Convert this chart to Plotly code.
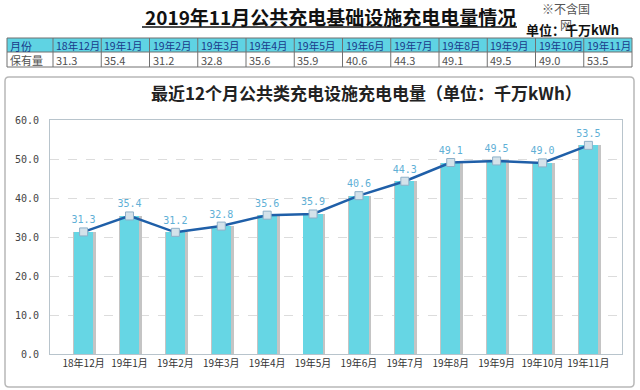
import plotly.graph_objects as go

months = ["18年12月", "19年1月", "19年2月", "19年3月", "19年4月", "19年5月",
          "19年6月", "19年7月", "19年8月", "19年9月", "19年10月", "19年11月"]
values = [31.3, 35.4, 31.2, 32.8, 35.6, 35.9, 40.6, 44.3, 49.1, 49.5, 49.0, 53.5]
y_ticks = [0, 10, 20, 30, 40, 50, 60]

W, H = 640, 390
def px(x): return x / W
def py(y): return 1 - y / H

CJK = "Noto Sans CJK SC"

fig = go.Figure()

# bar shadow
fig.add_trace(go.Bar(x=months, y=values, width=0.5, offset=-0.23,
                     marker=dict(color="#c4c4c4", line=dict(width=0)),
                     hoverinfo="skip", showlegend=False))
# bars
fig.add_trace(go.Bar(x=months, y=values, width=0.42, offset=-0.21,
                     marker=dict(color="#66d6e4", line=dict(width=0)),
                     showlegend=False))
# line
fig.add_trace(go.Scatter(x=months, y=values, mode="lines+markers+text",
                         text=[f"{v:.1f}" for v in values],
                         textposition="top center",
                         textfont=dict(family="DejaVu Sans Mono", size=10, color="#5fb0d6"),
                         line=dict(color="#1f5fa8", width=2.5),
                         marker=dict(symbol="square", size=8, color="#d4e2ea",
                                     line=dict(color="#8fb0c8", width=1)),
                         showlegend=False))

bx0, bx1, by0, by1, r = 5, 634, 77, 387, 4
shapes = [
    dict(type="path", xref="paper", yref="paper", layer="below",
         path=f"M {px(bx0+r)},{py(by0)} L {px(bx1-r)},{py(by0)} Q {px(bx1)},{py(by0)} {px(bx1)},{py(by0+r)} "
              f"L {px(bx1)},{py(by1-r)} Q {px(bx1)},{py(by1)} {px(bx1-r)},{py(by1)} "
              f"L {px(bx0+r)},{py(by1)} Q {px(bx0)},{py(by1)} {px(bx0)},{py(by1-r)} "
              f"L {px(bx0)},{py(by0+r)} Q {px(bx0)},{py(by0)} {px(bx0+r)},{py(by0)} Z",
         line=dict(color="#b8b8b8", width=1.5)),
]
annotations = [
    dict(text="<b>2019年11月公共充电基础设施充电电量情况</b>",
         xref="paper", yref="paper", x=px(330), y=py(17), xanchor="center", yanchor="middle",
         showarrow=False, font=dict(family=CJK, size=19, color="#111111")),
    dict(text="※不含国<br>网", xref="paper", yref="paper", x=px(566), y=py(17),
         xanchor="center", yanchor="middle",
         showarrow=False, font=dict(family=CJK, size=12, color="#555555")),
    dict(text="<b>单位：千万kWh</b>", xref="paper", yref="paper", x=px(572), y=py(29.5),
         xanchor="center", yanchor="middle",
         showarrow=False, font=dict(family=CJK, size=13, color="#111111")),
    dict(text="<b>最近12个月公共类充电设施充电电量（单位：千万kWh）</b>",
         xref="paper", yref="paper", x=px(366), y=py(92), xanchor="center", yanchor="middle",
         showarrow=False, font=dict(family=CJK, size=17, color="#222222")),
]
# title underline
shapes.append(dict(type="line", xref="paper", yref="paper", x0=px(142), x1=px(517),
                   y0=py(27), y1=py(27), line=dict(color="#111111", width=1.5)))

# table built from shapes + annotations
first_w, col_w = 46, (632 - 53) / 12
col_edges = [7, 7 + first_w] + [7 + first_w + col_w * (i + 1) for i in range(len(months))]
row_edges = [38, 52, 67]
shapes.append(dict(type="rect", xref="paper", yref="paper", layer="below",
                   x0=px(col_edges[0]), x1=px(col_edges[-1]), y0=py(row_edges[0]), y1=py(row_edges[1]),
                   fillcolor="#5fd3e3", line=dict(width=0)))
for x in col_edges:
    shapes.append(dict(type="line", xref="paper", yref="paper", x0=px(x), x1=px(x),
                       y0=py(row_edges[0]), y1=py(row_edges[-1]), line=dict(color="#707070", width=1)))
for y in row_edges:
    shapes.append(dict(type="line", xref="paper", yref="paper", x0=px(col_edges[0]), x1=px(col_edges[-1]),
                       y0=py(y), y1=py(y), line=dict(color="#707070", width=1)))
header = ["月份"] + months
row = ["保有量"] + [f"{v:.1f}" for v in values]
for i, (h, rv) in enumerate(zip(header, row)):
    x0 = col_edges[i] + 1
    annotations.append(dict(text=h, xref="paper", yref="paper", x=px(x0), y=py(45.5),
                            xanchor="left", yanchor="middle", showarrow=False,
                            font=dict(family=CJK, size=10.5 if i else 11, color="#1a3a8a")))
    annotations.append(dict(text=rv, xref="paper", yref="paper", x=px(x0), y=py(59.5),
                            xanchor="left", yanchor="middle", showarrow=False,
                            font=dict(family=CJK, size=11, color="#505050")))

fig.update_layout(
    width=W, height=H, margin=dict(l=0, r=0, t=0, b=0, autoexpand=False),
    paper_bgcolor="white", plot_bgcolor="white",
    barmode="overlay", bargap=0,
    xaxis=dict(domain=[px(50), px(622)], type="category", automargin=False,
               showline=True, linecolor="#b8c4cc", mirror=True, ticks="",
               tickfont=dict(family=CJK, size=10, color="#333333"),
               showgrid=False),
    yaxis=dict(domain=[py(354), py(120)], range=[0, 60], tickvals=y_ticks, automargin=False,
               tickformat=".1f", showline=True, linecolor="#b8c4cc", mirror=True,
               showgrid=True, gridcolor="#dcdcdc", griddash="dash", zeroline=False,
               tickfont=dict(family="DejaVu Sans Mono", size=10, color="#444444"),
               ticklabelstandoff=8),
    shapes=shapes,
    annotations=annotations,
)

fig.write_html("out.html", config={"displayModeBar": False},
               post_script="document.body.style.margin='0px';")
